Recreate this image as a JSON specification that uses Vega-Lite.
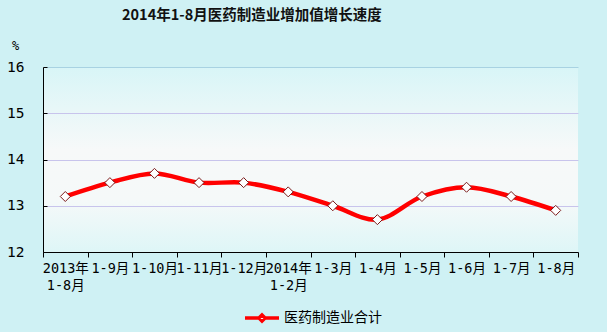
{
  "$schema": "https://vega.github.io/schema/vega-lite/v6.json",
  "width": 535,
  "height": 185,
  "autosize": {"type": "none"},
  "padding": {"left": 43, "top": 67, "right": 29, "bottom": 80},
  "background": "#cff1f4",
  "title": {
    "text": "2014年1-8月医药制造业增加值增长速度",
    "font": "Noto Sans CJK SC",
    "fontSize": 14.5,
    "fontWeight": "bold",
    "color": "#111111",
    "anchor": "start",
    "frame": "group",
    "dx": 79,
    "baseline": "middle",
    "offset": 9
  },
  "config": {
    "view": {
      "stroke": null,
      "fill": {
        "gradient": "linear",
        "x1": 0, "y1": 0, "x2": 0, "y2": 1,
        "stops": [
          {"offset": 0, "color": "#d8f5f7"},
          {"offset": 0.45, "color": "#f7f9f9"},
          {"offset": 0.72, "color": "#f5f9f9"},
          {"offset": 1, "color": "#def6f7"}
        ]
      }
    }
  },
  "data": {
    "values": [
      {"period": "2013年\n1-8月", "rate": 13.2, "series": "医药制造业合计"},
      {"period": "1-9月", "rate": 13.5, "series": "医药制造业合计"},
      {"period": "1-10月", "rate": 13.7, "series": "医药制造业合计"},
      {"period": "1-11月", "rate": 13.5, "series": "医药制造业合计"},
      {"period": "1-12月", "rate": 13.5, "series": "医药制造业合计"},
      {"period": "2014年\n1-2月", "rate": 13.3, "series": "医药制造业合计"},
      {"period": "1-3月", "rate": 13.0, "series": "医药制造业合计"},
      {"period": "1-4月", "rate": 12.7, "series": "医药制造业合计"},
      {"period": "1-5月", "rate": 13.2, "series": "医药制造业合计"},
      {"period": "1-6月", "rate": 13.4, "series": "医药制造业合计"},
      {"period": "1-7月", "rate": 13.2, "series": "医药制造业合计"},
      {"period": "1-8月", "rate": 12.9, "series": "医药制造业合计"}
    ]
  },
  "encoding": {
    "x": {
      "field": "period",
      "type": "nominal",
      "sort": null,
      "scale": {"paddingInner": 0, "paddingOuter": 0},
      "axis": {
        "title": null,
        "labelAngle": 0,
        "labelExpr": "split(datum.label, '\\n')",
        "labelFont": "'DejaVu Sans Mono', 'Noto Sans CJK SC'",
        "labelFontSize": 13.5,
        "labelColor": "#000000",
        "labelLineHeight": 17,
        "labelBaseline": "top",
        "labelPadding": 4,
        "labelOverlap": false,
        "labelBound": false,
        "labelFlush": false,
        "tickBand": "extent",
        "tickSize": 5,
        "tickColor": "#000000",
        "domainColor": "#000000",
        "grid": false
      }
    },
    "y": {
      "field": "rate",
      "type": "quantitative",
      "scale": {"domain": [12, 16], "nice": false, "zero": false},
      "axis": {
        "title": "%",
        "titleAngle": 0,
        "titleX": -28,
        "titleY": -22,
        "titleAlign": "center",
        "titleBaseline": "middle",
        "titleFont": "'DejaVu Sans Mono'",
        "titleFontSize": 12,
        "titleFontWeight": "normal",
        "titleColor": "#000000",
        "values": [12, 13, 14, 15, 16],
        "labelFont": "'DejaVu Sans Mono'",
        "labelFontSize": 14.5,
        "labelColor": "#000000",
        "labelPadding": 23,
        "tickSize": -4,
        "tickColor": "#000000",
        "domainColor": "#000000",
        "grid": true,
        "gridColor": {"condition": {"test": "datum.value == 16", "value": "#a8d2e2"}, "value": "#c8c4ec"}
      }
    }
  },
  "layer": [
    {
      "mark": {"type": "line", "interpolate": "catmull-rom", "strokeWidth": 4.5},
      "encoding": {
        "color": {
          "field": "series",
          "type": "nominal",
          "scale": {"range": ["#ff0000"]},
          "legend": {
            "title": null,
            "orient": "none",
            "legendX": 200,
            "legendY": 232,
            "direction": "horizontal",
            "symbolType": "M-1,0L-0.2,0M0.2,0L1,0M0,-0.18L0.18,0L0,0.18L-0.18,0Z",
            "symbolSize": 1156,
            "labelFont": "Noto Sans CJK SC",
            "labelFontSize": 14,
            "labelColor": "#000000",
            "labelOffset": 3,
            "encode": {
              "symbols": {
                "update": {
                  "fill": {"value": "#ffffff"},
                  "stroke": {"value": "#ff0000"},
                  "strokeWidth": {"value": 3.5}
                }
              }
            }
          }
        }
      }
    },
    {
      "mark": {
        "type": "point",
        "shape": "diamond",
        "size": 100,
        "filled": true,
        "fill": "#ffffff",
        "stroke": "#7a1a1a",
        "strokeWidth": 1,
        "opacity": 1
      }
    }
  ]
}
